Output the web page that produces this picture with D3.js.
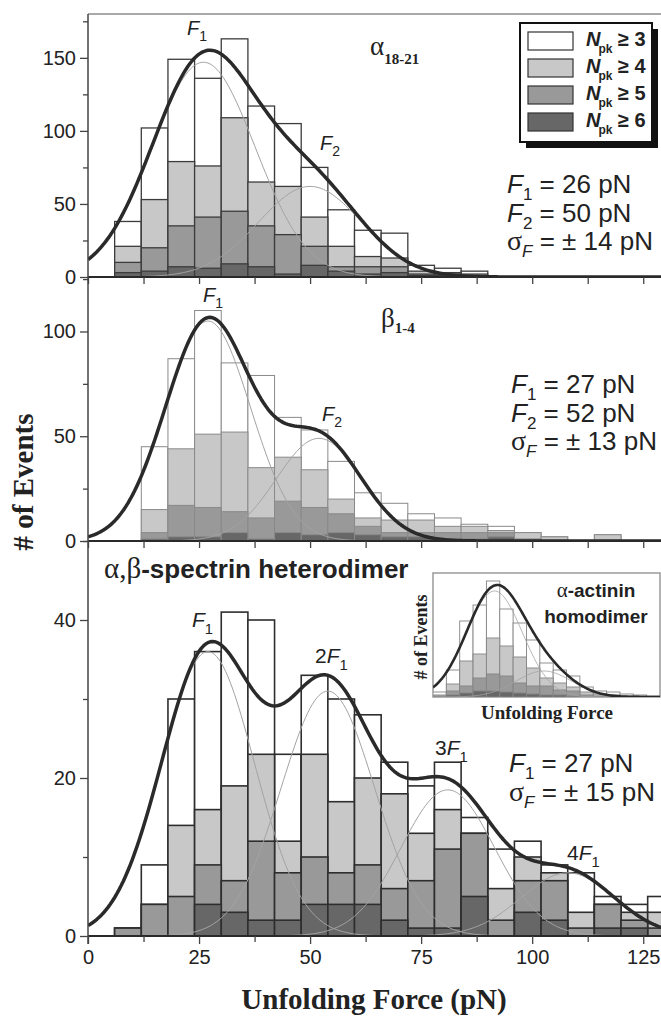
<!DOCTYPE html>
<html>
<head>
<meta charset="utf-8">
<script src="https://cdn.jsdelivr.net/npm/d3@7"></script>
<style>
  body { margin: 0; background: #fff; }
  svg { display: block; font-family: "Liberation Sans", Arial, sans-serif; }
</style>
</head>
<body>
<svg id="chart" width="661" height="1018"></svg>
<script>
// ---- data ----
const binW = 6;

// alpha 18-21
const topBins = [6, 12, 18, 24, 30, 36, 42, 48, 54, 60, 66, 72, 78, 84];
const topN3 = [38, 102, 149, 136, 163, 117, 105, 75, 46, 32, 30, 8, 6, 4];
const topN4 = [21, 53, 79, 76, 109, 65, 62, 41, 21, 14, 13, 4, 3, 2];
const topN5 = [10, 20, 35, 41, 45, 35, 29, 21, 7, 7, 7, 2, 2, 1];
const topN6 = [3, 4, 7, 6, 9, 7, 2, 8, 4, 2, 3, 1, 1, 0];
const topPeaks = [26, 50];
const topAmps = [147, 62];
const topSigma = 11.6;

// beta 1-4
const midBins = [12, 18, 24, 30, 36, 42, 48, 54, 60, 66, 72, 78, 84, 90, 96, 102, 108, 114];
const midN3 = [45, 87, 110, 85, 79, 59, 53, 38, 23, 18, 13, 11, 8, 7, 4, 2, 0, 3];
const midN4 = [15, 44, 51, 52, 35, 40, 34, 20, 11, 10, 10, 7, 7, 5, 4, 2, 0, 3];
const midN5 = [4, 17, 16, 14, 11, 19, 16, 13, 7, 4, 4, 4, 4, 4, 1, 0, 0, 0];
const midN6 = [1, 2, 2, 4, 1, 4, 3, 4, 3, 2, 2, 1, 1, 2, 0, 0, 0, 0];
const midPeaks = [27, 52];
const midAmps = [105, 49];
const midSigma = 9.6;

// alpha,beta heterodimer
const botBins = [6, 12, 18, 24, 30, 36, 42, 48, 54, 60, 66, 72, 78, 84, 90, 96, 102, 108, 114, 120, 126];
const botN3 = [1, 9, 30, 36, 41, 40, 23, 33, 30, 28, 22, 19, 22, 15, 11, 12, 9, 8, 5, 4, 5];
const botN4 = [1, 4, 14, 16, 19, 23, 12, 23, 17, 20, 18, 13, 16, 13, 6, 10, 8, 3, 4, 3, 3];
const botN5 = [1, 4, 5, 9, 7, 12, 8, 10, 8, 9, 6, 7, 11, 13, 2, 7, 7, 1, 4, 2, 1];
const botN6 = [0, 0, 0, 4, 3, 2, 2, 4, 4, 4, 2, 1, 1, 5, 0, 3, 2, 0, 1, 1, 0];
const botPeaks = [27, 54, 81, 108];
const botAmps = [36, 31, 18.5, 8];
const botSigma = 10.5;

// alpha-actinin inset (no units shown, bins in arbitrary steps)
const insetBins = [0, 1, 2, 3, 4, 5, 6, 7, 8, 9, 10, 11, 12, 13, 14, 15, 16];
const insetN3 = [5, 27, 76, 92, 116, 88, 74, 57, 34, 27, 21, 10, 6, 5, 3, 2, 1];
const insetN4 = [2, 13, 36, 43, 59, 51, 40, 29, 19, 14, 10, 5, 3, 2, 1, 1, 0];
const insetN5 = [1, 6, 11, 19, 23, 21, 14, 11, 11, 7, 6, 2, 1, 1, 0, 0, 0];
const insetN6 = [0, 2, 4, 6, 6, 5, 4, 3, 2, 2, 1, 0, 0, 0, 0, 0, 0];
const insetPeaks = [4.6, 8.3];
const insetAmps = [106, 26];
const insetSigma = 2.1;

const forceTicks = [0, 25, 50, 75, 100, 125];
const forceMinor = [12.5, 37.5, 62.5, 87.5, 112.5];
const topTicks = [0, 50, 100, 150], topMinor = [25, 75, 125, 175];
const midTicks = [0, 50, 100], midMinor = [25, 75, 125];
const botTicks = [0, 20, 40], botMinor = [10, 30, 50];
const legendLabels = ["3", "4", "5", "6"];

// ---- drawing ----
const svg = d3.select("#chart");
const levelFill = ["#ffffff", "#c8c8c8", "#999999", "#676767"];
const serif = "'Liberation Serif', 'Times New Roman', serif";
const ink = "#222";

const x = d3.scaleLinear().domain([0, 129]).range([88, 661]);
const fGrid = d3.range(0, 129.25, 0.5);

function gauss(f, mu, a, s) {
  return a * Math.exp(-((f - mu) * (f - mu)) / (2 * s * s));
}

function drawHist(g, xs, ys, bins, levels, w, stroke, sw) {
  levels.forEach((vals, li) => {
    g.append("g").selectAll("rect")
      .data(bins.map((b, i) => ({ b: b, v: vals[i] })).filter(d => d.v > 0))
      .join("rect")
      .attr("x", d => xs(d.b))
      .attr("width", d => xs(d.b + w) - xs(d.b))
      .attr("y", d => ys(d.v))
      .attr("height", d => ys(0) - ys(d.v))
      .attr("fill", levelFill[li])
      .attr("stroke", stroke)
      .attr("stroke-width", sw);
  });
}

function drawFits(g, xs, ys, grid, peaks, amps, sigma, thickW, thinW) {
  const line = d3.line().x(d => xs(d[0])).y(d => ys(d[1]));
  peaks.forEach((mu, i) => {
    g.append("path")
      .datum(grid.map(f => [f, gauss(f, mu, amps[i], sigma)]))
      .attr("d", line)
      .attr("fill", "none")
      .attr("stroke", "#a3a3a3")
      .attr("stroke-width", thinW);
  });
  g.append("path")
    .datum(grid.map(f => [f, d3.sum(peaks, (mu, i) => gauss(f, mu, amps[i], sigma))]))
    .attr("d", line)
    .attr("fill", "none")
    .attr("stroke", "#2a2a2a")
    .attr("stroke-width", thickW)
    .attr("stroke-linejoin", "round");
}

const panels = [
  { id: "top", bins: topBins, levels: [topN3, topN4, topN5, topN6], peaks: topPeaks, amps: topAmps, sigma: topSigma,
    y: d3.scaleLinear().domain([0, 180]).range([277, 14]), ticks: topTicks, minor: topMinor, stroke: "#3c3c3c", sw: 1.3 },
  { id: "mid", bins: midBins, levels: [midN3, midN4, midN5, midN6], peaks: midPeaks, amps: midAmps, sigma: midSigma,
    y: d3.scaleLinear().domain([0, 126]).range([541, 277]), ticks: midTicks, minor: midMinor, stroke: "#8a8a8a", sw: 1 },
  { id: "bot", bins: botBins, levels: [botN3, botN4, botN5, botN6], peaks: botPeaks, amps: botAmps, sigma: botSigma,
    y: d3.scaleLinear().domain([0, 50]).range([936, 541]), ticks: botTicks, minor: botMinor, stroke: "#2e2e2e", sw: 1.6 }
];

const defs = svg.append("defs");

panels.forEach(p => {
  const [y0, y1] = p.y.range();
  defs.append("clipPath").attr("id", "clip-" + p.id)
    .append("rect").attr("x", x(0)).attr("y", y1).attr("width", x(129) - x(0)).attr("height", y0 - y1);

  const body = svg.append("g").attr("clip-path", `url(#clip-${p.id})`);
  drawHist(body, x, p.y, p.bins, p.levels, binW, p.stroke, p.sw);
  drawFits(body, x, p.y, fGrid, p.peaks, p.amps, p.sigma, 3.5, 1);

  // baseline
  svg.append("line").attr("x1", x(0)).attr("x2", 661).attr("y1", y0).attr("y2", y0)
    .attr("stroke", "#2a2a2a").attr("stroke-width", 2);

  // y axis
  const ax = svg.append("g").attr("transform", `translate(${x(0)},0)`)
    .call(d3.axisLeft(p.y).tickValues(p.ticks).tickSize(8).tickPadding(4));
  ax.append("g").call(d3.axisLeft(p.y).tickValues(p.minor).tickSize(5).tickFormat(""));
  ax.selectAll(".domain").remove();
  ax.selectAll("line").attr("stroke", "#444").attr("stroke-width", 1.3);
  ax.selectAll("text").attr("font-size", 20).attr("fill", ink)
    .attr("font-family", "'Liberation Sans', Arial, sans-serif");

  // x ticks along each baseline
  const bx = svg.append("g").attr("transform", `translate(0,${y0})`);
  if (p.id === "bot") {
    bx.call(d3.axisBottom(x).tickValues(forceTicks).tickSize(8).tickPadding(6));
    bx.append("g").call(d3.axisBottom(x).tickValues(forceMinor).tickSize(6).tickFormat(""));
    bx.selectAll("text").attr("font-size", 20).attr("fill", ink)
      .attr("font-family", "'Liberation Sans', Arial, sans-serif");
  } else {
    bx.call(d3.axisBottom(x).tickValues(forceTicks.concat(forceMinor)).tickSize(7).tickFormat(""));
  }
  bx.selectAll(".domain").remove();
  bx.selectAll("line").attr("stroke", "#444").attr("stroke-width", 1.3);
});

// frame
svg.append("line").attr("x1", x(0)).attr("x2", 661).attr("y1", 14).attr("y2", 14)
  .attr("stroke", "#8c8c8c").attr("stroke-width", 1.5);
svg.append("line").attr("x1", x(0)).attr("x2", x(0)).attr("y1", 14).attr("y2", 944)
  .attr("stroke", "#444").attr("stroke-width", 1.5);

// ---- text helpers ----
function subLabel(xp, yp, parts, size) {
  const t = svg.append("text").attr("x", xp).attr("y", yp).attr("font-size", size).attr("fill", ink);
  if (parts.pre) t.append("tspan").text(parts.pre);
  t.append("tspan").attr("font-style", "italic").text("F");
  t.append("tspan").attr("font-size", size * 0.7).attr("dy", size * 0.32).text(parts.sub);
  return t;
}

function noteLines(xp, yp, lines) {
  lines.forEach((ln, i) => {
    const t = svg.append("text").attr("x", xp).attr("y", yp + i * 28.5).attr("font-size", 26).attr("fill", ink);
    if (ln[0] === "σ") {
      t.append("tspan").attr("font-family", serif).attr("font-size", 28).text("σ");
      t.append("tspan").attr("font-style", "italic").attr("font-size", 17).attr("dy", 7).text(ln[1]);
    } else {
      t.append("tspan").attr("font-style", "italic").text(ln[0]);
      t.append("tspan").attr("font-size", 17).attr("dy", 7).text(ln[1]);
    }
    t.append("tspan").attr("dy", -7).text(ln[2]);
  });
}

// peak labels
subLabel(187, 35, { sub: "1" }, 20);
subLabel(320, 150, { sub: "2" }, 20);
subLabel(203, 302, { sub: "1" }, 20);
subLabel(322, 421, { sub: "2" }, 20);
subLabel(192, 627, { sub: "1" }, 21);
subLabel(315, 663, { pre: "2", sub: "1" }, 21);
subLabel(435, 755, { pre: "3", sub: "1" }, 21);
subLabel(567, 860, { pre: "4", sub: "1" }, 21);

// fit results
noteLines(507, 193, [["F", "1", " = 26 pN"], ["F", "2", " = 50 pN"], ["σ", "F", " = ± 14 pN"]]);
noteLines(511, 393, [["F", "1", " = 27 pN"], ["F", "2", " = 52 pN"], ["σ", "F", " = ± 13 pN"]]);
noteLines(509, 772, [["F", "1", " = 27 pN"], ["σ", "F", " = ± 15 pN"]]);

// panel names
const tA = svg.append("text").attr("x", 370).attr("y", 55).attr("fill", ink).attr("font-family", serif);
tA.append("tspan").attr("font-size", 27).text("α");
tA.append("tspan").attr("font-size", 15).attr("font-weight", "bold").attr("dy", 9).text("18-21");

const tB = svg.append("text").attr("x", 381).attr("y", 327).attr("fill", ink).attr("font-family", serif);
tB.append("tspan").attr("font-size", 27).text("β");
tB.append("tspan").attr("font-size", 15).attr("font-weight", "bold").attr("dy", 6).text("1-4");

const tH = svg.append("text").attr("x", 104).attr("y", 578).attr("fill", ink).attr("font-size", 26).attr("font-weight", "bold");
tH.append("tspan").attr("font-family", serif).attr("font-weight", "normal").attr("font-size", 29).text("α,β");
tH.append("tspan").text("-spectrin heterodimer");

// legend
const lg = svg.append("g");
lg.append("rect").attr("x", 526).attr("y", 29).attr("width", 132).attr("height", 119).attr("fill", "#111");
lg.append("rect").attr("x", 520).attr("y", 23).attr("width", 132).attr("height", 119)
  .attr("fill", "#fff").attr("stroke", "#111").attr("stroke-width", 2);
legendLabels.forEach((lab, i) => {
  const yy = 32 + i * 27;
  lg.append("rect").attr("x", 528).attr("y", yy).attr("width", 45).attr("height", 18)
    .attr("fill", levelFill[i]).attr("stroke", "#333").attr("stroke-width", 1.2);
  const t = lg.append("text").attr("x", 586).attr("y", yy + 14).attr("font-size", 20)
    .attr("font-weight", "bold").attr("fill", ink);
  t.append("tspan").attr("font-style", "italic").text("N");
  t.append("tspan").attr("font-size", 12).attr("dy", 7).attr("dx", -2).text("pk");
  t.append("tspan").attr("dy", -7).text(" ≥ " + lab);
});

// inset: alpha-actinin homodimer
const ix = d3.scaleLinear().domain([0, 17]).range([433, 660]);
const iy = d3.scaleLinear().domain([0, 120]).range([697, 577]);
svg.append("rect").attr("x", 433).attr("y", 573).attr("width", 227).attr("height", 124)
  .attr("fill", "#fff").attr("stroke", "#9a9a9a").attr("stroke-width", 1.5);
defs.append("clipPath").attr("id", "clip-inset")
  .append("rect").attr("x", 433).attr("y", 573).attr("width", 227).attr("height", 124);
const ig = svg.append("g").attr("clip-path", "url(#clip-inset)");
drawHist(ig, ix, iy, insetBins, [insetN3, insetN4, insetN5, insetN6], 1, "#858585", 0.9);
drawFits(ig, ix, iy, d3.range(0, 17.05, 0.1), insetPeaks, insetAmps, insetSigma, 2.6, 0.8);
svg.append("text").attr("x", 596).attr("y", 597).attr("text-anchor", "middle").attr("font-size", 19)
  .attr("font-weight", "bold").attr("fill", ink)
  .call(t => { t.append("tspan").attr("font-family", serif).attr("font-weight", "normal").attr("font-size", 21).text("α"); t.append("tspan").text("-actinin"); });
svg.append("text").attr("x", 596).attr("y", 623).attr("text-anchor", "middle").attr("font-size", 19)
  .attr("font-weight", "bold").attr("fill", ink).text("homodimer");
svg.append("text").attr("transform", "translate(427,637) rotate(-90)").attr("text-anchor", "middle")
  .attr("font-family", serif).attr("font-weight", "bold").attr("font-size", 18).attr("fill", ink).text("# of Events");
svg.append("text").attr("x", 547).attr("y", 719).attr("text-anchor", "middle")
  .attr("font-family", serif).attr("font-weight", "bold").attr("font-size", 19).attr("fill", ink).text("Unfolding Force");

// axis titles
svg.append("text").attr("x", 374).attr("y", 1009).attr("text-anchor", "middle")
  .attr("font-family", serif).attr("font-weight", "bold").attr("font-size", 29).attr("fill", ink)
  .text("Unfolding Force (pN)");
svg.append("text").attr("transform", "translate(33,482) rotate(-90)").attr("text-anchor", "middle")
  .attr("font-family", serif).attr("font-weight", "bold").attr("font-size", 29).attr("fill", ink)
  .text("# of Events");
</script>
</body>
</html>
